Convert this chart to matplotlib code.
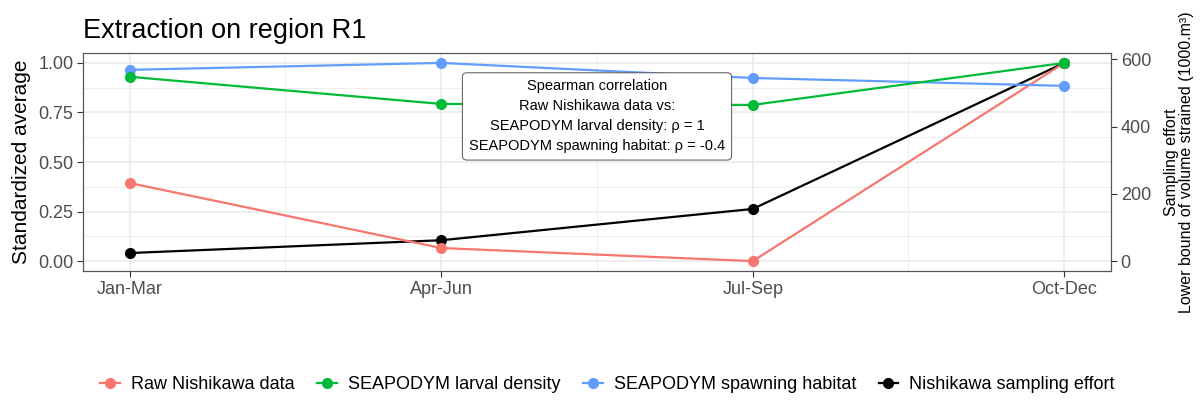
import numpy as np
import matplotlib.pyplot as plt
from matplotlib.lines import Line2D

plt.rcParams['font.family'] = ['Liberation Sans', 'DejaVu Sans']

quarters = ["Jan-Mar", "Apr-Jun", "Jul-Sep", "Oct-Dec"]
raw_nishikawa = [0.394, 0.066, 0.0, 1.0]
larval_density = [0.93, 0.793, 0.788, 1.0]
spawning_habitat = [0.965, 1.0, 0.924, 0.884]
sampling_effort = [24, 62, 155, 589]  # 1000.m3

series_names = ["Raw Nishikawa data", "SEAPODYM larval density",
                "SEAPODYM spawning habitat", "Nishikawa sampling effort"]
colors = ["#F8766D", "#00BA38", "#619CFF", "black"]

effort_max = max(sampling_effort)
effort_scaled = [v / effort_max for v in sampling_effort]

fig = plt.figure(figsize=(12.03, 4.03), dpi=100)
ax = fig.add_axes([0.069, 0.3275, 0.8545, 0.541])

x = np.arange(len(quarters))
ax.plot(x, effort_scaled, color=colors[3], lw=1.6, marker="o", ms=7, zorder=3)
ax.plot(x, raw_nishikawa, color=colors[0], lw=1.6, marker="o", ms=7, zorder=3)
ax.plot(x, spawning_habitat, color=colors[2], lw=1.6, marker="o", ms=7, zorder=3)
ax.plot(x, larval_density, color=colors[1], lw=1.6, marker="o", ms=7, zorder=3)

ax.set_xlim(-0.15, 3.15)
ax.set_ylim(-0.05, 1.05)
ax.set_xticks(x)
ax.set_xticklabels(quarters)
ax.set_yticks([0, 0.25, 0.5, 0.75, 1.0])
ax.set_yticklabels(["0.00", "0.25", "0.50", "0.75", "1.00"])
ax.set_yticks([0.125, 0.375, 0.625, 0.875], minor=True)
ax.set_xticks([0.5, 1.5, 2.5], minor=True)
ax.grid(True, which="major", color="#EBEBEB", lw=1.2, zorder=0)
ax.grid(True, which="minor", color="#EBEBEB", lw=0.6, zorder=0)
ax.tick_params(which="minor", length=0)
ax.tick_params(which="major", length=4, width=0.8, color="#333333",
               labelsize=13, labelcolor="#4D4D4D", pad=3)
for s in ax.spines.values():
    s.set_color("#555555")
    s.set_linewidth(0.8)
ax.set_axisbelow(True)
ax.set_ylabel("Standardized average", fontsize=15, labelpad=5)

ax2 = ax.twinx()
ax2.set_ylim(-0.05 * effort_max, 1.05 * effort_max)
ax2.set_yticks([0, 200, 400, 600])
ax2.tick_params(length=4, width=0.8, color="#333333",
                labelsize=13, labelcolor="#4D4D4D", pad=3)
for s in ax2.spines.values():
    s.set_color("#555555")
    s.set_linewidth(0.8)
ax2.set_ylabel("Sampling effort\nLower bound of volume strained (1000.m³)",
               fontsize=11.5, labelpad=9, linespacing=1.05)

ax.text(1.5, 0.73,
        "Spearman correlation\nRaw Nishikawa data vs:\n"
        "SEAPODYM larval density: ρ = 1\nSEAPODYM spawning habitat: ρ = -0.4",
        ha="center", va="center", fontsize=10.5, linespacing=1.55, zorder=5,
        bbox=dict(boxstyle="round,pad=0.45,rounding_size=0.3", fc="white",
                  ec="#555555", lw=0.7))

ax.set_title("Extraction on region R1", loc="left", fontsize=19.5, pad=11,
             x=0.0)

handles = [Line2D([0], [0], color=c, lw=1.6, marker="o", ms=7) for c in colors]
fig.legend(handles, series_names, loc="center", bbox_to_anchor=(0.505, 0.045),
           ncol=4, frameon=False, fontsize=13, handlelength=1.1,
           columnspacing=1.25, handletextpad=0.6)

fig.savefig("out.png", dpi=100)
